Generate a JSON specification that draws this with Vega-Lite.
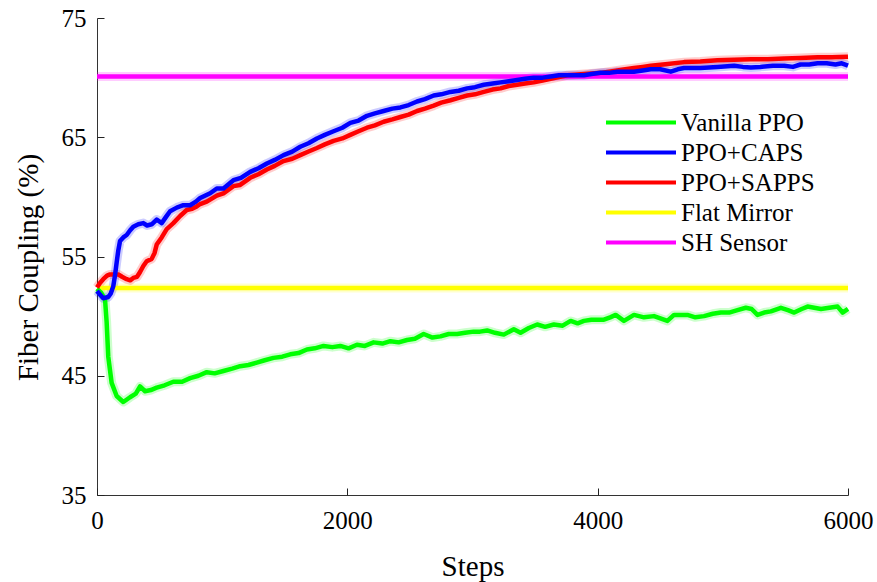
{
  "$schema": "https://vega.github.io/schema/vega-lite/v6.json",
  "width": 751,
  "height": 477,
  "autosize": {"type": "none"},
  "padding": {"left": 97, "top": 18, "right": 29, "bottom": 87},
  "background": "white",
  "config": {
    "view": {"stroke": null},
    "font": "Liberation Serif",
    "axis": {
      "grid": false,
      "domainColor": "#333333",
      "domainWidth": 1,
      "labelFont": "Liberation Serif",
      "labelFontSize": 25,
      "labelColor": "#000000",
      "titleFont": "Liberation Serif",
      "titleFontSize": 29,
      "titleFontWeight": "normal",
      "titleColor": "#000000",
      "labelFlush": false,
      "labelOverlap": false
    },
    "legend": {
      "labelFont": "Liberation Serif",
      "labelFontSize": 25,
      "labelColor": "#000000",
      "symbolStrokeWidth": 4,
      "symbolOpacity": 1
    }
  },
  "resolve": {"axis": {"x": "independent", "y": "independent"}},
  "data": {
    "values": [
      {"series": "Flat Mirror", "step": 0, "value": 52.35},
      {"series": "Flat Mirror", "step": 6000, "value": 52.35},
      {"series": "SH Sensor", "step": 0, "value": 70.1},
      {"series": "SH Sensor", "step": 6000, "value": 70.1},
      {"series": "Vanilla PPO", "step": 0, "value": 52.3},
      {"series": "Vanilla PPO", "step": 30, "value": 52.0},
      {"series": "Vanilla PPO", "step": 64, "value": 51.4},
      {"series": "Vanilla PPO", "step": 77, "value": 49.5},
      {"series": "Vanilla PPO", "step": 90, "value": 46.6},
      {"series": "Vanilla PPO", "step": 117, "value": 44.4},
      {"series": "Vanilla PPO", "step": 157, "value": 43.3},
      {"series": "Vanilla PPO", "step": 210, "value": 42.8},
      {"series": "Vanilla PPO", "step": 264, "value": 43.2},
      {"series": "Vanilla PPO", "step": 310, "value": 43.5},
      {"series": "Vanilla PPO", "step": 344, "value": 44.1},
      {"series": "Vanilla PPO", "step": 384, "value": 43.7},
      {"series": "Vanilla PPO", "step": 430, "value": 43.8},
      {"series": "Vanilla PPO", "step": 477, "value": 44.0},
      {"series": "Vanilla PPO", "step": 540, "value": 44.2},
      {"series": "Vanilla PPO", "step": 610, "value": 44.5},
      {"series": "Vanilla PPO", "step": 680, "value": 44.5},
      {"series": "Vanilla PPO", "step": 744, "value": 44.8},
      {"series": "Vanilla PPO", "step": 810, "value": 45.0},
      {"series": "Vanilla PPO", "step": 877, "value": 45.3},
      {"series": "Vanilla PPO", "step": 940, "value": 45.2},
      {"series": "Vanilla PPO", "step": 1010, "value": 45.4},
      {"series": "Vanilla PPO", "step": 1080, "value": 45.6},
      {"series": "Vanilla PPO", "step": 1144, "value": 45.8},
      {"series": "Vanilla PPO", "step": 1210, "value": 45.9},
      {"series": "Vanilla PPO", "step": 1277, "value": 46.1},
      {"series": "Vanilla PPO", "step": 1340, "value": 46.3},
      {"series": "Vanilla PPO", "step": 1410, "value": 46.5},
      {"series": "Vanilla PPO", "step": 1480, "value": 46.6},
      {"series": "Vanilla PPO", "step": 1544, "value": 46.8},
      {"series": "Vanilla PPO", "step": 1610, "value": 46.9},
      {"series": "Vanilla PPO", "step": 1677, "value": 47.2},
      {"series": "Vanilla PPO", "step": 1740, "value": 47.3},
      {"series": "Vanilla PPO", "step": 1810, "value": 47.5},
      {"series": "Vanilla PPO", "step": 1880, "value": 47.4},
      {"series": "Vanilla PPO", "step": 1944, "value": 47.5},
      {"series": "Vanilla PPO", "step": 2010, "value": 47.3},
      {"series": "Vanilla PPO", "step": 2077, "value": 47.6},
      {"series": "Vanilla PPO", "step": 2140, "value": 47.5},
      {"series": "Vanilla PPO", "step": 2210, "value": 47.8},
      {"series": "Vanilla PPO", "step": 2280, "value": 47.7},
      {"series": "Vanilla PPO", "step": 2344, "value": 47.9},
      {"series": "Vanilla PPO", "step": 2410, "value": 47.8},
      {"series": "Vanilla PPO", "step": 2477, "value": 48.0},
      {"series": "Vanilla PPO", "step": 2540, "value": 48.1},
      {"series": "Vanilla PPO", "step": 2610, "value": 48.5},
      {"series": "Vanilla PPO", "step": 2680, "value": 48.2},
      {"series": "Vanilla PPO", "step": 2744, "value": 48.3},
      {"series": "Vanilla PPO", "step": 2810, "value": 48.5},
      {"series": "Vanilla PPO", "step": 2877, "value": 48.5},
      {"series": "Vanilla PPO", "step": 2940, "value": 48.6},
      {"series": "Vanilla PPO", "step": 3010, "value": 48.7},
      {"series": "Vanilla PPO", "step": 3060, "value": 48.7},
      {"series": "Vanilla PPO", "step": 3117, "value": 48.8},
      {"series": "Vanilla PPO", "step": 3180, "value": 48.6},
      {"series": "Vanilla PPO", "step": 3250, "value": 48.45},
      {"series": "Vanilla PPO", "step": 3330, "value": 48.9},
      {"series": "Vanilla PPO", "step": 3384, "value": 48.6},
      {"series": "Vanilla PPO", "step": 3450, "value": 49.0},
      {"series": "Vanilla PPO", "step": 3517, "value": 49.3},
      {"series": "Vanilla PPO", "step": 3580, "value": 49.1},
      {"series": "Vanilla PPO", "step": 3650, "value": 49.3},
      {"series": "Vanilla PPO", "step": 3720, "value": 49.2},
      {"series": "Vanilla PPO", "step": 3784, "value": 49.6},
      {"series": "Vanilla PPO", "step": 3840, "value": 49.4},
      {"series": "Vanilla PPO", "step": 3890, "value": 49.6},
      {"series": "Vanilla PPO", "step": 3950, "value": 49.7},
      {"series": "Vanilla PPO", "step": 4050, "value": 49.7},
      {"series": "Vanilla PPO", "step": 4100, "value": 49.9},
      {"series": "Vanilla PPO", "step": 4144, "value": 50.1},
      {"series": "Vanilla PPO", "step": 4210, "value": 49.6},
      {"series": "Vanilla PPO", "step": 4290, "value": 50.1},
      {"series": "Vanilla PPO", "step": 4370, "value": 49.9},
      {"series": "Vanilla PPO", "step": 4450, "value": 50.0},
      {"series": "Vanilla PPO", "step": 4557, "value": 49.6},
      {"series": "Vanilla PPO", "step": 4610, "value": 50.1},
      {"series": "Vanilla PPO", "step": 4717, "value": 50.1},
      {"series": "Vanilla PPO", "step": 4780, "value": 49.9},
      {"series": "Vanilla PPO", "step": 4850, "value": 50.0},
      {"series": "Vanilla PPO", "step": 4920, "value": 50.2},
      {"series": "Vanilla PPO", "step": 4984, "value": 50.3},
      {"series": "Vanilla PPO", "step": 5050, "value": 50.3},
      {"series": "Vanilla PPO", "step": 5117, "value": 50.5},
      {"series": "Vanilla PPO", "step": 5184, "value": 50.7},
      {"series": "Vanilla PPO", "step": 5230, "value": 50.6},
      {"series": "Vanilla PPO", "step": 5277, "value": 50.1},
      {"series": "Vanilla PPO", "step": 5330, "value": 50.3},
      {"series": "Vanilla PPO", "step": 5384, "value": 50.4},
      {"series": "Vanilla PPO", "step": 5464, "value": 50.7},
      {"series": "Vanilla PPO", "step": 5520, "value": 50.5},
      {"series": "Vanilla PPO", "step": 5570, "value": 50.3},
      {"series": "Vanilla PPO", "step": 5630, "value": 50.6},
      {"series": "Vanilla PPO", "step": 5677, "value": 50.8},
      {"series": "Vanilla PPO", "step": 5730, "value": 50.7},
      {"series": "Vanilla PPO", "step": 5784, "value": 50.6},
      {"series": "Vanilla PPO", "step": 5850, "value": 50.7},
      {"series": "Vanilla PPO", "step": 5917, "value": 50.8},
      {"series": "Vanilla PPO", "step": 5957, "value": 50.3},
      {"series": "Vanilla PPO", "step": 6000, "value": 50.6},
      {"series": "PPO+SAPPS", "step": 0, "value": 52.4},
      {"series": "PPO+SAPPS", "step": 25, "value": 52.8},
      {"series": "PPO+SAPPS", "step": 50, "value": 53.1},
      {"series": "PPO+SAPPS", "step": 80, "value": 53.4},
      {"series": "PPO+SAPPS", "step": 104, "value": 53.5},
      {"series": "PPO+SAPPS", "step": 140, "value": 53.5},
      {"series": "PPO+SAPPS", "step": 170, "value": 53.5},
      {"series": "PPO+SAPPS", "step": 200, "value": 53.3},
      {"series": "PPO+SAPPS", "step": 237, "value": 53.1},
      {"series": "PPO+SAPPS", "step": 265, "value": 53.0},
      {"series": "PPO+SAPPS", "step": 290, "value": 53.2},
      {"series": "PPO+SAPPS", "step": 320, "value": 53.3},
      {"series": "PPO+SAPPS", "step": 344, "value": 53.7},
      {"series": "PPO+SAPPS", "step": 370, "value": 54.2},
      {"series": "PPO+SAPPS", "step": 397, "value": 54.6},
      {"series": "PPO+SAPPS", "step": 437, "value": 54.8},
      {"series": "PPO+SAPPS", "step": 460, "value": 55.3},
      {"series": "PPO+SAPPS", "step": 477, "value": 56.0},
      {"series": "PPO+SAPPS", "step": 517, "value": 56.6},
      {"series": "PPO+SAPPS", "step": 557, "value": 57.3},
      {"series": "PPO+SAPPS", "step": 610, "value": 57.8},
      {"series": "PPO+SAPPS", "step": 664, "value": 58.4},
      {"series": "PPO+SAPPS", "step": 717, "value": 58.9},
      {"series": "PPO+SAPPS", "step": 760, "value": 59.0},
      {"series": "PPO+SAPPS", "step": 797, "value": 59.2},
      {"series": "PPO+SAPPS", "step": 824, "value": 59.4},
      {"series": "PPO+SAPPS", "step": 877, "value": 59.6},
      {"series": "PPO+SAPPS", "step": 957, "value": 60.1},
      {"series": "PPO+SAPPS", "step": 1010, "value": 60.3},
      {"series": "PPO+SAPPS", "step": 1090, "value": 60.9},
      {"series": "PPO+SAPPS", "step": 1144, "value": 61.0},
      {"series": "PPO+SAPPS", "step": 1224, "value": 61.6},
      {"series": "PPO+SAPPS", "step": 1290, "value": 61.9},
      {"series": "PPO+SAPPS", "step": 1357, "value": 62.3},
      {"series": "PPO+SAPPS", "step": 1420, "value": 62.6},
      {"series": "PPO+SAPPS", "step": 1490, "value": 63.0},
      {"series": "PPO+SAPPS", "step": 1560, "value": 63.2},
      {"series": "PPO+SAPPS", "step": 1624, "value": 63.5},
      {"series": "PPO+SAPPS", "step": 1690, "value": 63.8},
      {"series": "PPO+SAPPS", "step": 1757, "value": 64.1},
      {"series": "PPO+SAPPS", "step": 1820, "value": 64.4},
      {"series": "PPO+SAPPS", "step": 1890, "value": 64.7},
      {"series": "PPO+SAPPS", "step": 1960, "value": 64.9},
      {"series": "PPO+SAPPS", "step": 2024, "value": 65.2},
      {"series": "PPO+SAPPS", "step": 2090, "value": 65.5},
      {"series": "PPO+SAPPS", "step": 2157, "value": 65.8},
      {"series": "PPO+SAPPS", "step": 2220, "value": 66.0},
      {"series": "PPO+SAPPS", "step": 2290, "value": 66.3},
      {"series": "PPO+SAPPS", "step": 2360, "value": 66.5},
      {"series": "PPO+SAPPS", "step": 2424, "value": 66.7},
      {"series": "PPO+SAPPS", "step": 2490, "value": 66.9},
      {"series": "PPO+SAPPS", "step": 2557, "value": 67.2},
      {"series": "PPO+SAPPS", "step": 2620, "value": 67.4},
      {"series": "PPO+SAPPS", "step": 2690, "value": 67.65},
      {"series": "PPO+SAPPS", "step": 2750, "value": 67.9},
      {"series": "PPO+SAPPS", "step": 2824, "value": 68.1},
      {"series": "PPO+SAPPS", "step": 2890, "value": 68.3},
      {"series": "PPO+SAPPS", "step": 2957, "value": 68.5},
      {"series": "PPO+SAPPS", "step": 3020, "value": 68.6},
      {"series": "PPO+SAPPS", "step": 3090, "value": 68.8},
      {"series": "PPO+SAPPS", "step": 3160, "value": 69.0},
      {"series": "PPO+SAPPS", "step": 3224, "value": 69.1},
      {"series": "PPO+SAPPS", "step": 3290, "value": 69.3},
      {"series": "PPO+SAPPS", "step": 3357, "value": 69.4},
      {"series": "PPO+SAPPS", "step": 3420, "value": 69.5},
      {"series": "PPO+SAPPS", "step": 3490, "value": 69.6},
      {"series": "PPO+SAPPS", "step": 3560, "value": 69.75},
      {"series": "PPO+SAPPS", "step": 3624, "value": 69.9},
      {"series": "PPO+SAPPS", "step": 3690, "value": 70.05},
      {"series": "PPO+SAPPS", "step": 3757, "value": 70.2},
      {"series": "PPO+SAPPS", "step": 3820, "value": 70.25},
      {"series": "PPO+SAPPS", "step": 3890, "value": 70.3},
      {"series": "PPO+SAPPS", "step": 3950, "value": 70.35},
      {"series": "PPO+SAPPS", "step": 4024, "value": 70.4},
      {"series": "PPO+SAPPS", "step": 4090, "value": 70.5},
      {"series": "PPO+SAPPS", "step": 4157, "value": 70.6},
      {"series": "PPO+SAPPS", "step": 4220, "value": 70.7},
      {"series": "PPO+SAPPS", "step": 4290, "value": 70.8},
      {"series": "PPO+SAPPS", "step": 4360, "value": 70.9},
      {"series": "PPO+SAPPS", "step": 4424, "value": 71.0},
      {"series": "PPO+SAPPS", "step": 4560, "value": 71.15},
      {"series": "PPO+SAPPS", "step": 4690, "value": 71.3},
      {"series": "PPO+SAPPS", "step": 4820, "value": 71.35},
      {"series": "PPO+SAPPS", "step": 4957, "value": 71.45},
      {"series": "PPO+SAPPS", "step": 5090, "value": 71.5},
      {"series": "PPO+SAPPS", "step": 5224, "value": 71.55},
      {"series": "PPO+SAPPS", "step": 5360, "value": 71.55},
      {"series": "PPO+SAPPS", "step": 5490, "value": 71.6},
      {"series": "PPO+SAPPS", "step": 5620, "value": 71.65},
      {"series": "PPO+SAPPS", "step": 5757, "value": 71.7},
      {"series": "PPO+SAPPS", "step": 5870, "value": 71.7},
      {"series": "PPO+SAPPS", "step": 6000, "value": 71.75},
      {"series": "PPO+CAPS", "step": 0, "value": 52.1},
      {"series": "PPO+CAPS", "step": 25, "value": 51.8},
      {"series": "PPO+CAPS", "step": 50, "value": 51.5},
      {"series": "PPO+CAPS", "step": 90, "value": 51.6},
      {"series": "PPO+CAPS", "step": 110, "value": 51.9},
      {"series": "PPO+CAPS", "step": 130, "value": 52.5},
      {"series": "PPO+CAPS", "step": 145, "value": 53.5},
      {"series": "PPO+CAPS", "step": 157, "value": 54.5},
      {"series": "PPO+CAPS", "step": 170, "value": 55.5},
      {"series": "PPO+CAPS", "step": 184, "value": 56.3},
      {"series": "PPO+CAPS", "step": 210, "value": 56.6},
      {"series": "PPO+CAPS", "step": 237, "value": 56.8},
      {"series": "PPO+CAPS", "step": 265, "value": 57.2},
      {"series": "PPO+CAPS", "step": 290, "value": 57.5},
      {"series": "PPO+CAPS", "step": 330, "value": 57.7},
      {"series": "PPO+CAPS", "step": 370, "value": 57.8},
      {"series": "PPO+CAPS", "step": 400, "value": 57.6},
      {"series": "PPO+CAPS", "step": 437, "value": 57.7},
      {"series": "PPO+CAPS", "step": 477, "value": 58.1},
      {"series": "PPO+CAPS", "step": 517, "value": 57.8},
      {"series": "PPO+CAPS", "step": 550, "value": 58.3},
      {"series": "PPO+CAPS", "step": 584, "value": 58.8},
      {"series": "PPO+CAPS", "step": 637, "value": 59.1},
      {"series": "PPO+CAPS", "step": 690, "value": 59.3},
      {"series": "PPO+CAPS", "step": 744, "value": 59.3},
      {"series": "PPO+CAPS", "step": 790, "value": 59.6},
      {"series": "PPO+CAPS", "step": 824, "value": 59.9},
      {"series": "PPO+CAPS", "step": 904, "value": 60.3},
      {"series": "PPO+CAPS", "step": 957, "value": 60.7},
      {"series": "PPO+CAPS", "step": 1010, "value": 60.7},
      {"series": "PPO+CAPS", "step": 1090, "value": 61.4},
      {"series": "PPO+CAPS", "step": 1150, "value": 61.6},
      {"series": "PPO+CAPS", "step": 1224, "value": 62.1},
      {"series": "PPO+CAPS", "step": 1290, "value": 62.4},
      {"series": "PPO+CAPS", "step": 1357, "value": 62.8},
      {"series": "PPO+CAPS", "step": 1420, "value": 63.1},
      {"series": "PPO+CAPS", "step": 1490, "value": 63.5},
      {"series": "PPO+CAPS", "step": 1560, "value": 63.8},
      {"series": "PPO+CAPS", "step": 1624, "value": 64.2},
      {"series": "PPO+CAPS", "step": 1690, "value": 64.5},
      {"series": "PPO+CAPS", "step": 1757, "value": 64.9},
      {"series": "PPO+CAPS", "step": 1820, "value": 65.2},
      {"series": "PPO+CAPS", "step": 1890, "value": 65.5},
      {"series": "PPO+CAPS", "step": 1960, "value": 65.8},
      {"series": "PPO+CAPS", "step": 2024, "value": 66.2},
      {"series": "PPO+CAPS", "step": 2090, "value": 66.4},
      {"series": "PPO+CAPS", "step": 2157, "value": 66.8},
      {"series": "PPO+CAPS", "step": 2220, "value": 67.0},
      {"series": "PPO+CAPS", "step": 2290, "value": 67.2},
      {"series": "PPO+CAPS", "step": 2360, "value": 67.4},
      {"series": "PPO+CAPS", "step": 2424, "value": 67.5},
      {"series": "PPO+CAPS", "step": 2490, "value": 67.7},
      {"series": "PPO+CAPS", "step": 2557, "value": 68.0},
      {"series": "PPO+CAPS", "step": 2620, "value": 68.2},
      {"series": "PPO+CAPS", "step": 2690, "value": 68.5},
      {"series": "PPO+CAPS", "step": 2750, "value": 68.6},
      {"series": "PPO+CAPS", "step": 2824, "value": 68.8},
      {"series": "PPO+CAPS", "step": 2890, "value": 68.9},
      {"series": "PPO+CAPS", "step": 2957, "value": 69.1},
      {"series": "PPO+CAPS", "step": 3020, "value": 69.2},
      {"series": "PPO+CAPS", "step": 3090, "value": 69.4},
      {"series": "PPO+CAPS", "step": 3160, "value": 69.5},
      {"series": "PPO+CAPS", "step": 3224, "value": 69.6},
      {"series": "PPO+CAPS", "step": 3290, "value": 69.7},
      {"series": "PPO+CAPS", "step": 3357, "value": 69.8},
      {"series": "PPO+CAPS", "step": 3420, "value": 69.9},
      {"series": "PPO+CAPS", "step": 3490, "value": 70.0},
      {"series": "PPO+CAPS", "step": 3560, "value": 70.0},
      {"series": "PPO+CAPS", "step": 3624, "value": 70.1},
      {"series": "PPO+CAPS", "step": 3690, "value": 70.2},
      {"series": "PPO+CAPS", "step": 3757, "value": 70.2},
      {"series": "PPO+CAPS", "step": 3820, "value": 70.2},
      {"series": "PPO+CAPS", "step": 3890, "value": 70.2},
      {"series": "PPO+CAPS", "step": 3950, "value": 70.3},
      {"series": "PPO+CAPS", "step": 4024, "value": 70.4},
      {"series": "PPO+CAPS", "step": 4090, "value": 70.4},
      {"series": "PPO+CAPS", "step": 4157, "value": 70.5},
      {"series": "PPO+CAPS", "step": 4220, "value": 70.5},
      {"series": "PPO+CAPS", "step": 4290, "value": 70.5},
      {"series": "PPO+CAPS", "step": 4360, "value": 70.6},
      {"series": "PPO+CAPS", "step": 4424, "value": 70.7},
      {"series": "PPO+CAPS", "step": 4500, "value": 70.7},
      {"series": "PPO+CAPS", "step": 4584, "value": 70.5},
      {"series": "PPO+CAPS", "step": 4640, "value": 70.7},
      {"series": "PPO+CAPS", "step": 4690, "value": 70.8},
      {"series": "PPO+CAPS", "step": 4820, "value": 70.8},
      {"series": "PPO+CAPS", "step": 4957, "value": 70.9},
      {"series": "PPO+CAPS", "step": 5090, "value": 71.0},
      {"series": "PPO+CAPS", "step": 5160, "value": 70.9},
      {"series": "PPO+CAPS", "step": 5224, "value": 70.85},
      {"series": "PPO+CAPS", "step": 5300, "value": 70.9},
      {"series": "PPO+CAPS", "step": 5400, "value": 71.0},
      {"series": "PPO+CAPS", "step": 5490, "value": 71.0},
      {"series": "PPO+CAPS", "step": 5560, "value": 70.9},
      {"series": "PPO+CAPS", "step": 5620, "value": 71.1},
      {"series": "PPO+CAPS", "step": 5690, "value": 71.1},
      {"series": "PPO+CAPS", "step": 5757, "value": 71.2},
      {"series": "PPO+CAPS", "step": 5830, "value": 71.2},
      {"series": "PPO+CAPS", "step": 5900, "value": 71.1},
      {"series": "PPO+CAPS", "step": 5950, "value": 71.2},
      {"series": "PPO+CAPS", "step": 6000, "value": 71.0}
    ]
  },
  "encoding": {
    "color": {
      "field": "series",
      "type": "nominal",
      "scale": {
        "domain": ["Vanilla PPO", "PPO+CAPS", "PPO+SAPPS", "Flat Mirror", "SH Sensor"],
        "range": ["#00ff00", "#0000ff", "#ff0000", "#ffff00", "#ff00ff"]
      },
      "legend": {
        "title": null,
        "orient": "none",
        "legendX": 509,
        "legendY": 90,
        "padding": 0,
        "rowPadding": 2,
        "symbolType": "M-1.16,0H4.44",
        "symbolSize": 625,
        "symbolStrokeWidth": 4,
        "symbolOpacity": 1,
        "labelOffset": 46,
        "labelFontSize": 25
      }
    }
  },
  "layer": [
    {
      "mark": {"type": "line", "strokeWidth": 9, "opacity": 0.2, "strokeJoin": "round"},
      "encoding": {
        "x": {
          "field": "step",
          "type": "quantitative",
          "scale": {"domain": [0, 6000], "nice": false, "zero": false},
          "axis": {
            "orient": "bottom",
            "offset": -7,
            "values": [0, 2000, 4000, 6000],
            "labels": false,
            "domain": false,
            "ticks": true,
            "tickSize": 7,
            "tickColor": "#222222",
            "tickWidth": 1,
            "title": null,
            "zindex": 1
          }
        },
        "y": {
          "field": "value",
          "type": "quantitative",
          "scale": {"domain": [35, 75], "nice": false, "zero": false},
          "axis": {
            "orient": "left",
            "offset": -7,
            "values": [35, 45, 55, 65, 75],
            "labels": false,
            "domain": false,
            "ticks": true,
            "tickSize": 7,
            "tickColor": "#222222",
            "tickWidth": 1,
            "title": null,
            "zindex": 1
          }
        }
      }
    },
    {
      "mark": {"type": "line", "strokeWidth": 4.5, "strokeJoin": "round"},
      "encoding": {
        "x": {
          "field": "step",
          "type": "quantitative",
          "scale": {"domain": [0, 6000], "nice": false, "zero": false},
          "axis": {
            "orient": "bottom",
            "title": "Steps",
            "values": [0, 2000, 4000, 6000],
            "format": "d",
            "ticks": false,
            "labelPadding": 13,
            "titleBaseline": "alphabetic",
            "titleY": 80
          }
        },
        "y": {
          "field": "value",
          "type": "quantitative",
          "scale": {"domain": [35, 75], "nice": false, "zero": false},
          "axis": {
            "orient": "left",
            "title": "Fiber Coupling (%)",
            "values": [35, 45, 55, 65, 75],
            "format": "d",
            "ticks": false,
            "labelPadding": 11,
            "titleBaseline": "alphabetic",
            "titleAngle": -90,
            "titleX": -60,
            "titleY": 249,
            "titleAlign": "center"
          }
        }
      }
    }
  ]
}
